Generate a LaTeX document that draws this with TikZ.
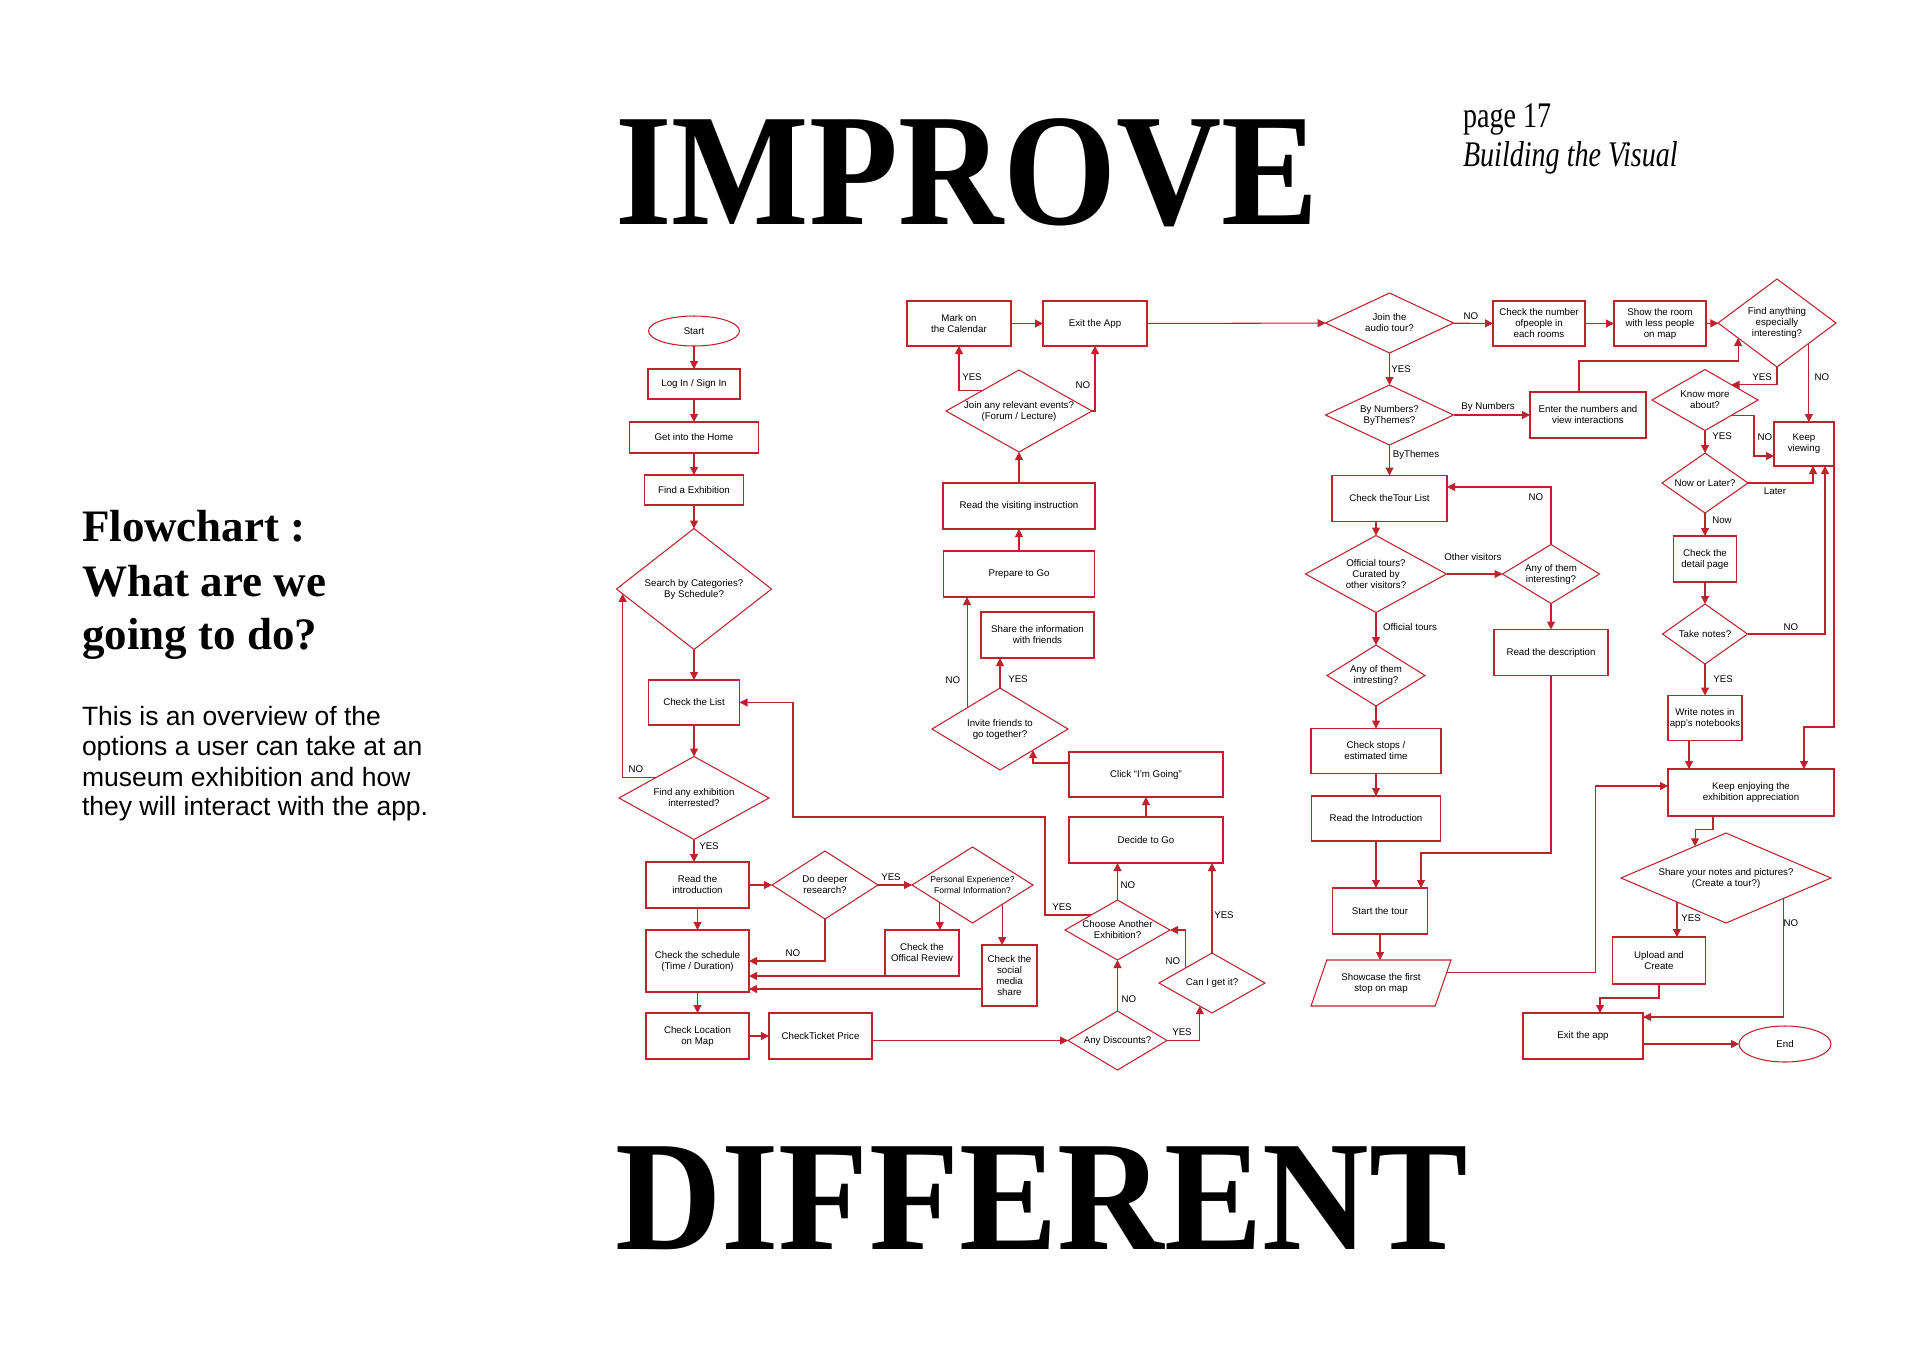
\documentclass[tikz,border=0pt]{standalone}
\usepackage{graphicx}
\usepackage{fontspec}
\setmainfont{Liberation Serif}
\newfontfamily\fcsans{Liberation Sans}
\usetikzlibrary{arrows.meta,shapes.geometric,calc}
\definecolor{fcred}{RGB}{190,35,45}
\begin{document}
\begin{tikzpicture}[x=1pt,y=-1pt,
  every node/.style={inner sep=0pt,outer sep=0pt},
  fc/.style={font=\fcsans\fontsize{9.7}{11}\selectfont,align=center,text=black},
  box/.style 2 args={fc,rectangle,draw=fcred,line width=1.05pt,minimum width=#1pt,minimum height=#2pt},
  dia/.style 2 args={diamond,draw=fcred,line width=1.05pt,minimum width=#1pt,minimum height=#2pt},
  ell/.style 2 args={fc,ellipse,draw=fcred,line width=1.05pt,minimum width=#1pt,minimum height=#2pt},
  para/.style={fc,trapezium,trapezium left angle=60,trapezium right angle=120,trapezium stretches=true,draw=fcred,line width=1.05pt,minimum width=140pt,minimum height=46pt},
  arr/.style={draw=fcred,line width=1.05pt,-{Triangle[width=8pt,length=8pt]}},
  lab/.style={font=\fcsans\fontsize{9.7}{11}\selectfont,text=black},
  big/.style={anchor=base west,text=black},
]
\fill[white] (0,0) rectangle (1920,1358);
\useasboundingbox (0,0) rectangle (1920,1358);

% ---------- titles and side text ----------
\node[big,font=\fontsize{160}{160}\selectfont\bfseries] (timprove) at (615,224) {\scalebox{0.91}[1]{IMPROVE}};
\node[big,font=\fontsize{157}{157}\selectfont\bfseries] (tdiff) at (615,1249) {\scalebox{0.94}[1]{DIFFERENT}};
\node[big,font=\fontsize{36}{36}\selectfont] (tpage) at (1463,127) {\scalebox{0.78}[1]{page 17}};
\node[big,font=\fontsize{36}{36}\selectfont\itshape] (tbuild) at (1463,166) {\scalebox{0.78}[1]{Building the Visual}};
\node[big,font=\fontsize{45}{45}\selectfont\bfseries] (h1) at (82,541) {Flowchart :};
\node[big,font=\fontsize{45}{45}\selectfont\bfseries] (h2) at (82,596) {What are we};
\node[big,font=\fontsize{45}{45}\selectfont\bfseries] (h3) at (82,649) {going to do?};
\node[big,font=\fcsans\fontsize{26.5}{30}\selectfont] (b1) at (82,725) {This is an overview of the};
\node[big,font=\fcsans\fontsize{26.5}{30}\selectfont] (b2) at (82,755) {options a user can take at an};
\node[big,font=\fcsans\fontsize{26.5}{30}\selectfont] (b3) at (82,786) {museum exhibition and how};
\node[big,font=\fcsans\fontsize{26.5}{30}\selectfont] (b4) at (82,815) {they will interact with the app.};

% ---------- column 1 ----------
\node[ell={91}{30}] (start) at (694,331) {Start};
\node[box={92}{30}] (login) at (694,384) {Log In / Sign In};
\node[box={129}{31}] (home) at (694,437.5) {Get into the Home};
\node[box={99}{30}] (findex) at (694,490) {Find a Exhibition};
\node[dia={155}{121},label={[fc]center:{Search by Categories?\\By Schedule?}}] (search) at (694,589) {};
\node[box={91}{45}] (list) at (694,702.5) {Check the List};
\node[dia={150}{83},label={[fc]center:{Find any exhibition\\interrested?}}] (fai) at (694,798) {};
\node[box={103}{46}] (rintro) at (697.5,885) {Read the\\introduction};
\node[box={103}{62}] (sched) at (697.5,961) {Check the schedule\\(Time / Duration)};
\node[box={103}{46}] (loc) at (697.5,1036) {Check Location\\on Map};
\node[box={103}{46}] (ticket) at (820.5,1036) {CheckTicket Price};
\node[dia={106}{68},label={[fc]center:{Do deeper\\research?}}] (deeper) at (825,885) {};
\node[dia={121}{76},label={[fc,font=\fcsans\fontsize{8.6}{10.5}\selectfont]center:{Personal Experience?\\Formal Information?}}] (pers) at (972.5,885) {};
\node[box={74}{46}] (review) at (922,953) {Check the\\Offical Review};
\node[box={55}{61}] (social) at (1009.5,975.5) {Check the\\social\\media\\share};

% ---------- column 2 ----------
\node[box={104}{45}] (mark) at (959,323.5) {Mark on\\the Calendar};
\node[box={104}{45}] (exitA) at (1095,323.5) {Exit the App};
\node[dia={146}{82},label={[fc]center:{Join any relevant events?\\(Forum / Lecture)}}] (events) at (1019,411) {};
\node[box={152}{46}] (visit) at (1019,506) {Read the visiting instruction};
\node[box={151}{46}] (prep) at (1019,574) {Prepare to Go};
\node[box={113}{46}] (sharei) at (1037.5,635) {Share the information\\with friends};
\node[dia={136}{82},label={[fc]center:{Invite friends to\\go together?}}] (invite) at (1000,729) {};
\node[box={154}{45}] (click) at (1146,774.5) {Click “I’m Going”};
\node[box={154}{46}] (decide) at (1146,840) {Decide to Go};
\node[dia={105}{60},label={[fc]center:{Choose Another\\Exhibition?}}] (another) at (1117.5,930) {};
\node[dia={99}{59},label={[fc]center:{Any Discounts?}}] (disc) at (1117.5,1040.5) {};
\node[dia={106}{60},label={[fc]center:{Can I get it?}}] (canget) at (1212,983) {};

% ---------- column 3 ----------
\node[dia={128}{60},label={[fc]center:{Join the\\audio tour?}}] (audio) at (1389.5,323) {};
\node[box={92}{45}] (cnum) at (1539,323.5) {Check the number\\ofpeople in\\each rooms};
\node[box={92}{45}] (sroom) at (1660,323.5) {Show the room\\with less people\\on map};
\node[dia={118}{88},label={[fc]center:{Find anything\\especially\\interesting?}}] (fany) at (1777,323) {};
\node[dia={128}{60},label={[fc]center:{By Numbers?\\ByThemes?}}] (bynum) at (1389.5,415) {};
\node[box={116}{46}] (enter) at (1588,415) {Enter the numbers and\\view interactions};
\node[box={115}{46}] (tour) at (1389.5,498.5) {Check theTour List};
\node[dia={141}{77},label={[fc]center:{Official tours?\\Curated by\\other visitors?}}] (offic) at (1376,574) {};
\node[dia={97}{59},label={[fc]center:{Any of them\\interesting?}}] (anyr) at (1551,574) {};
\node[box={114}{46}] (rdesc) at (1551,652.5) {Read the description};
\node[dia={98}{61},label={[fc]center:{Any of them\\intresting?}}] (anyl) at (1376,675.5) {};
\node[box={130}{45}] (stops) at (1376,751) {Check stops /\\estimated time};
\node[box={129}{45}] (rintro2) at (1376,818.5) {Read the Introduction};
\node[box={95}{46}] (stour) at (1380,911) {Start the tour};
\node[para] (show) at (1381,983) {Showcase the first\\stop on map};

% ---------- column 4 ----------
\node[dia={106}{61},label={[fc]center:{Know more\\about?}}] (knowm) at (1705,400) {};
\node[box={60}{44}] (keepv) at (1804,444) {Keep\\viewing};
\node[dia={86}{60},label={[fc]center:{Now or Later?}}] (nowl) at (1705,483) {};
\node[box={63}{46}] (detail) at (1705,559) {Check the\\detail page};
\node[dia={85}{60},label={[fc]center:{Take notes?}}] (notes) at (1705,634) {};
\node[box={74}{45}] (write) at (1705,718) {Write notes in\\app’s notebooks};
\node[box={166}{47}] (enjoy) at (1751,792.5) {Keep enjoying the\\exhibition appreciation};
\node[dia={210}{90},label={[fc]center:{Share your notes and pictures?\\(Create a tour?)}}] (sharen) at (1726,878) {};
\node[box={93}{47}] (upload) at (1659,960.5) {Upload and\\Create};
\node[box={120}{46}] (exitp) at (1583,1036) {Exit the app};
\node[ell={92}{36}] (endn) at (1785,1044) {End};

% ---------- helper points ----------
\coordinate (pa) at ($(pers.west)!0.46!(pers.south)$);
\coordinate (pb) at ($(pers.south)!0.49!(pers.east)$);
\coordinate (pc) at ($(invite.west)!0.515!(invite.north)$);
\coordinate (w1) at (1045,817);
\coordinate (w2) at (793,817);
\coordinate (pd) at ($(fany.south)!0.54!(fany.east)$);
\coordinate (pe) at ($(sharen.west)!0.533!(sharen.south)$);
\coordinate (pf) at ($(sharen.south)!0.543!(sharen.east)$);
\coordinate (pg) at ($(show.bottom right corner)!0.72!(show.top right corner)$);

% ---------- connectors column 1 ----------
\draw[arr] (start) -- (login);
\draw[arr] (login) -- (home);
\draw[arr] (home) -- (findex);
\draw[arr] (findex) -- (search);
\draw[arr] (search) -- (list);
\draw[arr] (list) -- (fai);
\draw[arr] (fai.north west) -| ($(search.west)!0.08!(search.south)$);
\draw[arr] (fai.south) -- (fai.south |- rintro.north);
\draw[arr] (rintro) -- (sched);
\draw[arr] (sched) -- (loc);
\draw[arr] (loc) -- (ticket);
\draw[arr] (rintro) -- (deeper);
\draw[arr] (deeper.south) |- (sched.east);
\draw[arr] (deeper) -- (pers);
\draw[arr] (pa) -- (pa |- review.north);
\draw[arr] (pb) -- (pb |- social.north);
\draw[arr] (review.south west) -- (review.south west -| sched.east);
\draw[arr] ([yshift=-13.5pt]social.west) -- ([yshift=-13.5pt]social.west -| sched.east);
\draw[arr] (ticket.east |- disc.west) -- (disc.west);

% ---------- connectors column 2 ----------
\draw[arr] (disc.north) -- (another.south);
\draw[arr] (disc.east) -| ($(canget.west)!0.77!(canget.south)$);
\draw[arr] (canget.north) -- (canget.north |- decide.south);
\draw[arr] (canget.north west) |- (another.east);
\draw[arr] (another.north) -- (another.north |- decide.south);
\draw[arr] (another.north west) -| (w1) -- (w2) |- (list.east);
\draw[arr] (decide) -- (click);
\draw[arr] ([yshift=11.5pt]click.west) -| ($(invite.east)!0.515!(invite.south)$);
\draw[arr] (invite.north) -- (invite.north |- sharei.south);
\draw[arr] (pc) -- (pc |- prep.south);
\draw[arr] (prep) -- (visit);
\draw[arr] (visit) -- (events);
\draw[arr] (events.north west) -| (mark.south);
\draw[arr] (events.east) -| (exitA.south);
\draw[arr] (mark) -- (exitA);
\draw[arr] (exitA) -- (audio);

% ---------- connectors column 3 ----------
\draw[arr] (audio) -- (cnum);
\draw[arr] (cnum) -- (sroom);
\draw[arr] (sroom) -- (fany);
\draw[arr] (audio) -- (bynum);
\draw[arr] (bynum) -- (enter);
\draw[arr] ([xshift=-9pt]enter.north) -- ++(0,-31) -| ($(fany.west)!0.34!(fany.south)$);
\draw[arr] (bynum) -- (tour);
\draw[arr] (offic.north |- tour.south) -- (offic.north);
\draw[arr] (offic) -- (anyr);
\draw[arr] (anyr.north) |- ([yshift=11.5pt]tour.east);
\draw[arr] (anyr) -- (rdesc);
\draw[arr] (rdesc.south) -- ++(0,177.5) -| ([xshift=41pt]stour.north);
\draw[arr] (offic) -- (anyl);
\draw[arr] (anyl) -- (stops);
\draw[arr] (stops) -- (rintro2);
\draw[arr] (rintro2.south) -- (rintro2.south |- stour.north);
\draw[arr] (stour.south) -- (stour.south |- show.north);
\draw[arr] (pg) -- ++(149,0) |- ([yshift=6.5pt]enjoy.west);

% ---------- connectors column 4 ----------
\draw[arr] (pd) -- (pd |- keepv.north);
\draw[arr] (fany.south) |- (knowm.north east);
\draw[arr] (knowm) -- (nowl);
\draw[arr] (knowm.south east) -- ++(22.5,0) |- ([yshift=-12pt]keepv.west);
\draw[arr] (nowl.east) -| ([xshift=9pt]keepv.south);
\draw[arr] (nowl) -- (detail);
\draw[arr] (detail) -- (notes);
\draw[arr] (notes.east) -| ([xshift=21pt]keepv.south);
\draw[arr] (keepv.south east) -- ++(0,261) -| ([xshift=53pt]enjoy.north);
\draw[arr] (notes) -- (write);
\draw[arr] ([xshift=-16pt]write.south) -- ([xshift=-16pt]write.south |- enjoy.north);
\draw[arr] ([xshift=-38pt]enjoy.south) -- ++(0,13.5) -| ($(sharen.west)!0.705!(sharen.north)$);
\draw[arr] (pe) -- (pe |- upload.north);
\draw[arr] (pf) |- ([yshift=19pt]exitp.east);
\draw[arr] (upload.south) -- ++(0,14) -| ([xshift=17pt]exitp.north);
\draw[arr] (exitp.east |- endn.west) -- (endn.west);

% ---------- connector labels ----------
\node[lab] (l1) at (636,769) {NO};
\node[lab] (l2) at (709,846) {YES};
\node[lab] (l3) at (793,953) {NO};
\node[lab] (l4) at (891,877) {YES};
\node[lab] (l5) at (972,377) {YES};
\node[lab] (l6) at (1083,385) {NO};
\node[lab] (l7) at (1018,679) {YES};
\node[lab] (l8) at (953,680) {NO};
\node[lab] (l9) at (1062,907) {YES};
\node[lab] (l10) at (1128,885) {NO};
\node[lab] (l11) at (1129,999) {NO};
\node[lab] (l12) at (1182,1032) {YES};
\node[lab] (l13) at (1224,915) {YES};
\node[lab] (l14) at (1173,961) {NO};
\node[lab] (l15) at (1471,316) {NO};
\node[lab] (l16) at (1401,369) {YES};
\node[lab] (l17) at (1488,407) {By Numbers};
\node[lab] (l18) at (1416,455) {ByThemes};
\node[lab] (l19) at (1536,497) {NO};
\node[lab] (l20) at (1473,557) {Other visitors};
\node[lab] (l21) at (1410,627) {Official tours};
\node[lab] (l22) at (1822,377) {NO};
\node[lab] (l23) at (1762,377) {YES};
\node[lab] (l24) at (1722,436) {YES};
\node[lab] (l25) at (1765,437) {NO};
\node[lab] (l26) at (1775,491) {Later};
\node[lab] (l27) at (1722,520) {Now};
\node[lab] (l28) at (1791,627) {NO};
\node[lab] (l29) at (1723,679) {YES};
\node[lab] (l30) at (1691,918) {YES};
\node[lab] (l31) at (1791,923) {NO};
\end{tikzpicture}
\end{document}
